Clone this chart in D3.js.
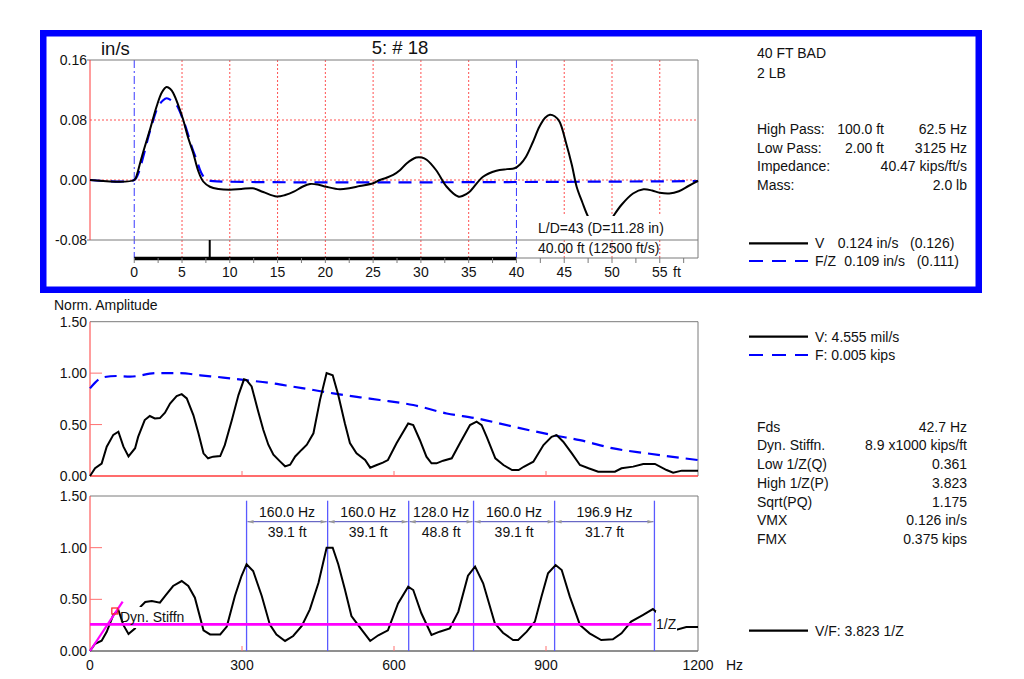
<!DOCTYPE html>
<html>
<head>
<meta charset="utf-8">
<script src="https://cdn.jsdelivr.net/npm/d3@7"></script>
<style>
  body { margin: 0; background: #fff; }
  svg { display: block; font-family: "Liberation Sans", Arial, sans-serif; }
</style>
</head>
<body>
<svg id="chart" width="1024" height="679"></svg>
<script>
// ---- top panel: velocity trace (ft, in/s)
const velocityTrace = [[-4.63,0],[0,0],[0.3,0.008],[0.6,0.022],[1.0,0.04],[1.64,0.067],[2.34,0.098],[2.9,0.117],[3.39,0.124],[3.8,0.121],[4.08,0.116],[4.6,0.1],[5.13,0.08],[5.6,0.058],[6.17,0.036],[6.7,0.012],[7.22,-0.002],[7.92,-0.009],[8.8,-0.012],[10,-0.013],[11.2,-0.012],[12.4,-0.011],[13.5,-0.016],[14.9,-0.022],[15.8,-0.02],[16.7,-0.0156],[17.6,-0.009],[18.4,-0.0053],[19.2,-0.006],[20.1,-0.009],[21.5,-0.0124],[22.5,-0.011],[23.6,-0.008],[25,-0.0044],[25.7,0],[26.4,0.003],[27.1,0.0067],[27.8,0.013],[28.5,0.022],[29.5,0.030],[30.1,0.030],[30.6,0.027],[31.6,0.013],[32.7,-0.009],[33.9,-0.022],[34.4,-0.021],[35.1,-0.0156],[36.5,0.0044],[37.9,0.0124],[39.0,0.0145],[39.8,0.0156],[40.4,0.021],[41.0,0.031],[41.7,0.05],[42.4,0.071],[43.0,0.083],[43.5,0.087],[44.0,0.085],[44.5,0.078],[45.2,0.049],[45.8,0.02],[46.3,-0.009],[46.9,-0.03],[47.5,-0.049],[48.4,-0.068],[49.3,-0.065],[50.1,-0.049],[51.0,-0.033],[52.2,-0.018],[53.3,-0.0124],[54.2,-0.014],[55,-0.017],[56,-0.018],[57,-0.015],[58,-0.008],[59,-0.001]];
const forceTrace = [[-4.63,0],[0,0],[0.4,0.008],[0.94,0.031],[1.3,0.049],[1.8,0.072],[2.5,0.098],[3.0,0.106],[3.39,0.109],[3.9,0.106],[4.43,0.1],[5.0,0.084],[5.48,0.067],[6.0,0.045],[6.52,0.027],[7.0,0.01],[7.57,0.0],[8.27,-0.0015],[59,-0.0015]];
const lengthTicks = [0,5,10,15,20,25,30,35,40,45,50,55];
const lengthMinorTicks = d3.range(0, 58, 2.5);
const velocityTicks = [0.16, 0.08, 0.00, -0.08];
const velocityGrid = [0.08, 0.00];
const toeMarks = [0, 40];
const reflectorMark = 7.9;

// ---- middle panel: spectra (Hz, normalised)
const velocitySpectrum = [[0,0],[10,0.075],[23,0.12],[33,0.285],[46,0.40],[56,0.43],[66,0.285],[76,0.19],[89,0.27],[95,0.38],[108,0.544],[118,0.583],[128,0.56],[138,0.563],[148,0.615],[158,0.705],[171,0.776],[181,0.796],[191,0.754],[204,0.592],[214,0.415],[224,0.22],[233,0.172],[243,0.188],[257,0.194],[266,0.30],[280,0.544],[293,0.787],[304,0.94],[309,0.933],[319,0.87],[332,0.627],[342,0.45],[352,0.304],[362,0.207],[375,0.142],[385,0.094],[395,0.11],[405,0.19],[418,0.256],[428,0.304],[441,0.415],[454,0.74],[467,1.0],[479,0.98],[490,0.787],[503,0.512],[513,0.32],[526,0.22],[543,0.155],[553,0.081],[566,0.107],[578,0.13],[588,0.155],[605,0.318],[628,0.51],[638,0.495],[651,0.35],[664,0.188],[674,0.123],[684,0.123],[697,0.149],[714,0.172],[730,0.318],[750,0.495],[763,0.528],[773,0.495],[783,0.38],[800,0.172],[816,0.107],[833,0.058],[846,0.058],[856,0.09],[875,0.139],[895,0.301],[911,0.38],[921,0.397],[934,0.333],[951,0.22],[967,0.107],[984,0.075],[1003,0.042],[1036,0.042],[1049,0.075],[1072,0.091],[1092,0.117],[1115,0.117],[1138,0.058],[1151,0.032],[1168,0.052],[1200,0.052]];
const forceSpectrum = [[0,0.852],[26,0.96],[52,0.972],[79,0.966],[132,1.0],[178,1.0],[218,0.979],[263,0.957],[309,0.931],[362,0.9],[401,0.868],[441,0.836],[480,0.803],[533,0.765],[572,0.739],[638,0.69],[704,0.608],[763,0.56],[835,0.48],[914,0.397],[967,0.349],[1033,0.268],[1099,0.22],[1200,0.155]];

// ---- bottom panel: mobility V/F
const mobility = [[0,0],[10,0.07],[23,0.1],[33,0.186],[46,0.349],[56,0.397],[66,0.25],[76,0.165],[89,0.219],[99.7,0.429],[109,0.474],[122,0.484],[138,0.468],[148,0.532],[164,0.629],[181,0.677],[194,0.629],[207,0.516],[224,0.2],[237,0.16],[257,0.16],[270,0.236],[286,0.532],[299,0.726],[309,0.84],[322,0.774],[339,0.532],[355,0.255],[368,0.16],[385,0.097],[401,0.145],[418,0.242],[434,0.403],[451,0.661],[467,1.0],[479,1.0],[490,0.84],[503,0.597],[516,0.339],[533,0.226],[553,0.097],[569,0.152],[588,0.2],[608,0.461],[628,0.623],[638,0.59],[654,0.365],[674,0.155],[690,0.187],[710,0.219],[727,0.381],[746,0.729],[760,0.816],[776,0.655],[799,0.268],[815,0.177],[835,0.106],[845,0.106],[862,0.187],[878,0.284],[891,0.526],[904,0.752],[919,0.832],[931,0.784],[947,0.526],[967,0.252],[986,0.171],[1009,0.106],[1032,0.113],[1049,0.171],[1068,0.284],[1091,0.348],[1111,0.406],[1121,0.364],[1140,0.28],[1158,0.207],[1177,0.232],[1200,0.232]];
const peakLines = [309, 469, 629, 757, 917, 1114];
const peakHz = ["160.0 Hz", "160.0 Hz", "128.0 Hz", "160.0 Hz", "196.9 Hz"];
const peakFt = ["39.1 ft", "39.1 ft", "48.8 ft", "39.1 ft", "31.7 ft"];
const mobilityLevel = 0.258;   // 1/Z line
const mobilityLevelEnd = 1108;
const stiffnessLine = [[0,0],[64.5,0.477]];
const stiffnessPoint = [49, 0.387];
const freqTicks = [0, 300, 600, 900, 1200];
const ampTicks = [1.50, 1.00, 0.50, 0.00];

// ---- text blocks
const headerLines = ["40 FT BAD", "2 LB"];
const filterRows = [["High Pass:", "100.0 ft", "62.5 Hz"], ["Low Pass:", "2.00 ft", "3125 Hz"], ["Impedance:", "", "40.47 kips/ft/s"], ["Mass:", "", "2.0 lb"]];
const statRows = [["Fds", "42.7 Hz"], ["Dyn. Stiffn.", "8.9 x1000 kips/ft"], ["Low 1/Z(Q)", "0.361"], ["High 1/Z(P)", "3.823"], ["Sqrt(PQ)", "1.175"], ["VMX", "0.126 in/s"], ["FMX", "0.375 kips"]];

const svg = d3.select("#chart");
const red = "#ff3b3b", gray = "#7a7a7a", blue = "#0000ff";
const FS = 14;

function txt(g, x, y, s, anchor, size) {
  return g.append("text").attr("x", x).attr("y", y)
    .attr("text-anchor", anchor || "start")
    .attr("font-size", size || FS).attr("fill", "#111").text(s);
}
function hline(g, x1, x2, y, color, w, dash) {
  return g.append("line").attr("x1", x1).attr("x2", x2).attr("y1", y).attr("y2", y)
    .attr("stroke", color).attr("stroke-width", w || 1).attr("stroke-dasharray", dash || null);
}
function vline(g, x, y1, y2, color, w, dash) {
  return g.append("line").attr("x1", x).attr("x2", x).attr("y1", y1).attr("y2", y2)
    .attr("stroke", color).attr("stroke-width", w || 1).attr("stroke-dasharray", dash || null);
}

// ================= TOP PANEL =================
const topPanel = svg.append("g");
topPanel.append("rect").attr("x", 43.25).attr("y", 33.25).attr("width", 935.5).attr("height", 256.5)
  .attr("fill", "none").attr("stroke", blue).attr("stroke-width", 6.5);

const xFt = d3.scaleLinear().domain([-4.63, 59]).range([90, 698]);
const yVel = d3.scaleLinear().domain([-0.08, 0.16]).range([240, 60]);

lengthTicks.filter(d => d > 0 && d !== 40).forEach(d => vline(topPanel, xFt(d), 60, 258, "#ff5050", 1, "2,2"));
velocityGrid.forEach(d => hline(topPanel, 90, 698, yVel(d), "#ff5050", 1, "2,2"));
toeMarks.forEach(d => vline(topPanel, xFt(d), 60, 258, "#3a3aff", 1, "8,3,2,3"));

hline(topPanel, 87, 698, yVel(0.16), gray);
hline(topPanel, 87, 698, yVel(-0.08), gray);
vline(topPanel, 698, 60, 258, gray);
vline(topPanel, 90, 60, 240, red);
// length bar along the bottom
hline(topPanel, xFt(0), xFt(40), 258.5, "#000", 3.5);
hline(topPanel, xFt(40), 698, 258, gray);
lengthMinorTicks.forEach(d => vline(topPanel, xFt(d), 258, 263, gray));
vline(topPanel, xFt(reflectorMark), 240, 258, "#000", 2);

velocityTicks.forEach(d => txt(topPanel, 87, yVel(d) + 5, d.toFixed(2), "end"));
lengthTicks.forEach(d => txt(topPanel, xFt(d), 277, d, "middle"));
txt(topPanel, 673, 277, "ft");
txt(topPanel, 101, 55, "in/s", "start", 18.5);
txt(topPanel, 400, 54, "5: # 18", "middle", 18.5);

const topLine = d3.line().x(d => xFt(d[0])).y(d => yVel(d[1])).curve(d3.curveCatmullRom);
topPanel.append("path").datum(forceTrace).attr("d", topLine)
  .attr("fill", "none").attr("stroke", blue).attr("stroke-width", 2.2).attr("stroke-dasharray", "13,8");
topPanel.append("path").datum(velocityTrace).attr("d", topLine)
  .attr("fill", "none").attr("stroke", "#000").attr("stroke-width", 2);

topPanel.append("rect").attr("x", 535).attr("y", 216).attr("width", 133).attr("height", 23).attr("fill", "#fff");
txt(topPanel, 538, 233, "L/D=43 (D=11.28 in)");
txt(topPanel, 538, 253, "40.00 ft (12500 ft/s)");

headerLines.forEach((s, i) => txt(topPanel, 757, 58.3 + i * 19.4, s));
filterRows.forEach((r, i) => {
  const y = 134 + i * 18.5;
  txt(topPanel, 757, y, r[0]);
  if (r[1]) txt(topPanel, 884, y, r[1], "end");
  txt(topPanel, 967, y, r[2], "end");
});

// legend helper
function legendRow(g, y, color, dash, parts) {
  hline(g, 749, 808, y, color, 2.2, dash);
  parts.forEach(p => txt(g, p[0], y + 5, p[1]));
}
legendRow(topPanel, 243.3, "#000", null, [[815, "V"], [837.7, "0.124 in/s"], [910, "(0.126)"]]);
legendRow(topPanel, 261, blue, "14,9", [[815, "F/Z"], [844.3, "0.109 in/s"], [916.7, "(0.111)"]]);

// ================= MIDDLE & BOTTOM PANELS =================
const xHz = d3.scaleLinear().domain([0, 1200]).range([90, 698]);

function freqFrame(g, yScale, bottomColor) {
  hline(g, 90, 698, yScale(1.5), gray);
  vline(g, 698, yScale(1.5), yScale(0), gray);
  hline(g, 90, 698, yScale(0), bottomColor, bottomColor === red ? 1.6 : 1.3);
  vline(g, 90, yScale(1.5), yScale(0), red);
  [1.0, 0.5].forEach(d => hline(g, 90, 102, yScale(d), "#ff7070"));
  [300, 600, 900].forEach(d => vline(g, xHz(d), yScale(0) - 5, yScale(0), "#ff7070"));
  ampTicks.forEach(d => txt(g, 87, yScale(d) + 5, d.toFixed(2), "end"));
}

// middle
const mid = svg.append("g");
const yMid = d3.scaleLinear().domain([0, 1.5]).range([476, 321.7]);
freqFrame(mid, yMid, red);
txt(mid, 54, 310, "Norm. Amplitude");
mid.append("path").datum(forceSpectrum)
  .attr("d", d3.line().x(d => xHz(d[0])).y(d => yMid(d[1])).curve(d3.curveMonotoneX))
  .attr("fill", "none").attr("stroke", blue).attr("stroke-width", 2.2).attr("stroke-dasharray", "12,7");
mid.append("path").datum(velocitySpectrum).attr("d", d3.line().x(d => xHz(d[0])).y(d => yMid(d[1])))
  .attr("fill", "none").attr("stroke", "#000").attr("stroke-width", 2);
legendRow(mid, 336.7, "#000", null, [[815, "V: 4.555 mil/s"]]);
legendRow(mid, 355, blue, "14,9", [[815, "F: 0.005 kips"]]);
statRows.forEach((r, i) => {
  const y = 431.7 + i * 18.7;
  txt(mid, 757, y, r[0]);
  txt(mid, 967, y, r[1], "end");
});

// bottom
const bot = svg.append("g");
const yBot = d3.scaleLinear().domain([0, 1.5]).range([651, 496]);
freqFrame(bot, yBot, "#6a6a6a");
freqTicks.forEach(d => txt(bot, xHz(d), 670, d, "middle"));
txt(bot, 726, 670, "Hz");

svg.append("defs").append("marker").attr("id", "arr")
  .attr("viewBox", "0 0 10 10").attr("refX", 10).attr("refY", 5)
  .attr("markerWidth", 9).attr("markerHeight", 6).attr("orient", "auto-start-reverse")
  .append("path").attr("d", "M0,2 L10,5 L0,8 Z").attr("fill", "#9a9a9a");

peakLines.forEach(d => vline(bot, xHz(d), 500.7, 651, "#5a5aff", 1.3));
peakHz.forEach((s, i) => {
  const a = xHz(peakLines[i]), b = xHz(peakLines[i + 1]);
  bot.append("line").attr("x1", a + 1).attr("x2", b - 1).attr("y1", 521.7).attr("y2", 521.7)
    .attr("stroke", "#4646b8").attr("stroke-width", 1)
    .attr("marker-start", "url(#arr)").attr("marker-end", "url(#arr)");
  txt(bot, (a + b) / 2, 516.5, s, "middle");
  txt(bot, (a + b) / 2, 536.5, peakFt[i], "middle");
});

bot.append("path").datum(mobility).attr("d", d3.line().x(d => xHz(d[0])).y(d => yBot(d[1])))
  .attr("fill", "none").attr("stroke", "#000").attr("stroke-width", 2);

// label boxes mask the trace, the magenta lines stay on top
bot.append("rect").attr("x", 131).attr("y", 607).attr("width", 56).attr("height", 21).attr("fill", "#fff");
bot.append("rect").attr("x", 656).attr("y", 611).attr("width", 21).attr("height", 22).attr("fill", "#fff");

hline(bot, xHz(0), xHz(mobilityLevelEnd), yBot(mobilityLevel), "#ff00ff", 2.6);
bot.append("path").datum(stiffnessLine).attr("d", d3.line().x(d => xHz(d[0])).y(d => yBot(d[1])))
  .attr("stroke", "#ff00ff").attr("stroke-width", 2.2).attr("fill", "none");
bot.append("rect").attr("x", xHz(stiffnessPoint[0]) - 3).attr("y", yBot(stiffnessPoint[1]) - 3)
  .attr("width", 6).attr("height", 6).attr("fill", "none").attr("stroke", "#ff2020").attr("stroke-width", 1.2);
txt(bot, 120, 621.7, "Dyn. Stiffn");
txt(bot, 656, 629, "1/Z");

legendRow(bot, 630.7, "#000", null, [[815, "V/F: 3.823 1/Z"]]);
</script>
</body>
</html>
